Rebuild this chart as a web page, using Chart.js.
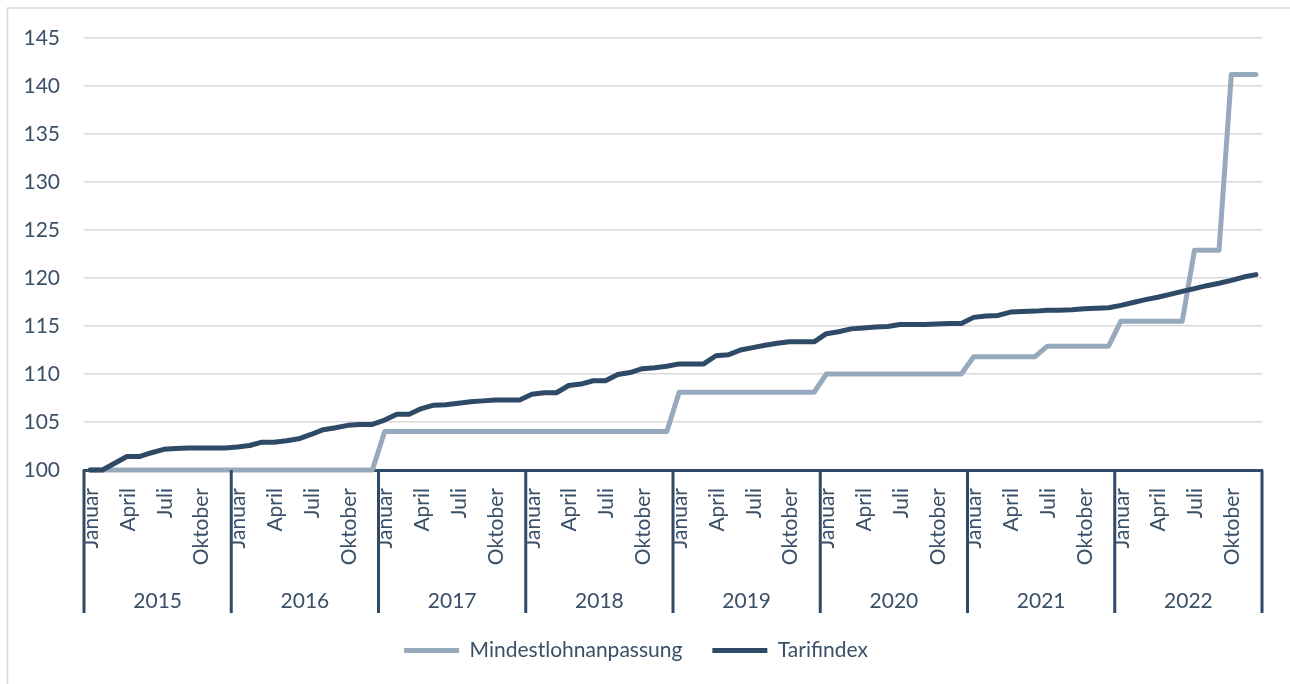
<!DOCTYPE html>
<html>
<head>
<meta charset="utf-8">
<script src="https://cdn.jsdelivr.net/npm/chart.js@4.4.0/dist/chart.umd.min.js"></script>
<style>
  body { margin: 0; background: #fff; }
  #wrap { width: 1290px; height: 684px; }
</style>
</head>
<body>
<div id="wrap"><canvas id="chart" width="1290" height="684"></canvas></div>
<script>
const years = ['2015', '2016', '2017', '2018', '2019', '2020', '2021', '2022'];
const months = ['Januar', 'Februar', 'März', 'April', 'Mai', 'Juni', 'Juli', 'August', 'September', 'Oktober', 'November', 'Dezember'];
const shownMonths = ['Januar', 'April', 'Juli', 'Oktober'];
const yTicks = { min: 100, max: 145, step: 5 };

// Mindestlohnanpassung, index Jan 2015 = 100
const mindestlohn2015 = [100, 100, 100, 100, 100, 100, 100, 100, 100, 100, 100, 100];
const mindestlohn2016 = [100, 100, 100, 100, 100, 100, 100, 100, 100, 100, 100, 100];
const mindestlohn2017 = [104, 104, 104, 104, 104, 104, 104, 104, 104, 104, 104, 104];
const mindestlohn2018 = [104, 104, 104, 104, 104, 104, 104, 104, 104, 104, 104, 104];
const mindestlohn2019 = [108.1, 108.1, 108.1, 108.1, 108.1, 108.1, 108.1, 108.1, 108.1, 108.1, 108.1, 108.1];
const mindestlohn2020 = [110, 110, 110, 110, 110, 110, 110, 110, 110, 110, 110, 110];
const mindestlohn2021 = [111.8, 111.8, 111.8, 111.8, 111.8, 111.8, 112.9, 112.9, 112.9, 112.9, 112.9, 112.9];
const mindestlohn2022 = [115.5, 115.5, 115.5, 115.5, 115.5, 115.5, 122.9, 122.9, 122.9, 141.2, 141.2, 141.2];

// Tarifindex
const tarif2015 = [100.0, 100.0, 100.7, 101.4, 101.4, 101.8, 102.15, 102.25, 102.3, 102.3, 102.3, 102.3];
const tarif2016 = [102.4, 102.55, 102.9, 102.9, 103.05, 103.25, 103.7, 104.2, 104.4, 104.65, 104.75, 104.75];
const tarif2017 = [105.2, 105.8, 105.8, 106.4, 106.75, 106.8, 106.95, 107.1, 107.2, 107.3, 107.3, 107.3];
const tarif2018 = [107.9, 108.05, 108.05, 108.8, 108.95, 109.3, 109.3, 109.95, 110.15, 110.55, 110.65, 110.8];
const tarif2019 = [111.05, 111.05, 111.05, 111.9, 112.0, 112.5, 112.75, 113.0, 113.2, 113.35, 113.35, 113.35];
const tarif2020 = [114.2, 114.4, 114.7, 114.8, 114.9, 114.95, 115.15, 115.15, 115.15, 115.2, 115.25, 115.25];
const tarif2021 = [115.9, 116.05, 116.1, 116.45, 116.5, 116.55, 116.65, 116.65, 116.7, 116.8, 116.85, 116.9];
const tarif2022 = [117.15, 117.45, 117.75, 118.0, 118.3, 118.6, 118.9, 119.2, 119.45, 119.75, 120.1, 120.35];

const mindestlohn = [].concat(mindestlohn2015, mindestlohn2016, mindestlohn2017, mindestlohn2018,
    mindestlohn2019, mindestlohn2020, mindestlohn2021, mindestlohn2022);
const tarifindex = [].concat(tarif2015, tarif2016, tarif2017, tarif2018,
    tarif2019, tarif2020, tarif2021, tarif2022);

const labels = [];
years.forEach(y => months.forEach(m => labels.push(m)));

const navy = '#2E4A66';
const light = '#97A9BC';
const textColor = '#3A4F68';
const font = { family: 'Lato', size: 21 };

// two-level category axis (rotated months + years with separators) and the outer frame
const yearAxis = {
    id: 'yearAxis',
    beforeDraw(chart) {
        const ctx = chart.ctx;
        ctx.save();
        ctx.strokeStyle = '#D9D9D9';
        ctx.lineWidth = 1.5;
        ctx.strokeRect(7.5, 8, 1400, 800);
        ctx.restore();
    },
    afterDraw(chart) {
        const ctx = chart.ctx;
        const x = chart.scales.x;
        const area = chart.chartArea;
        const bounds = [];
        for (let k = 0; k <= years.length; k++) {
            if (k === 0) bounds.push(area.left);
            else if (k === years.length) bounds.push(area.right);
            else bounds.push((x.getPixelForValue(12 * k - 1) + x.getPixelForValue(12 * k)) / 2);
        }
        ctx.save();
        ctx.strokeStyle = navy;
        ctx.lineWidth = 3;
        bounds.forEach(b => {
            ctx.beginPath();
            ctx.moveTo(b, area.bottom);
            ctx.lineTo(b, area.bottom + 143);
            ctx.stroke();
        });
        ctx.fillStyle = textColor;
        ctx.font = '21px Lato';
        ctx.textBaseline = 'middle';

        // month labels, rotated, reading upwards
        ctx.textAlign = 'right';
        labels.forEach((m, i) => {
            if (!shownMonths.includes(m)) return;
            ctx.save();
            ctx.translate(x.getPixelForValue(i) + 1, area.bottom + 18);
            ctx.rotate(-Math.PI / 2);
            ctx.fillText(m, 0, 0);
            ctx.restore();
        });

        ctx.textAlign = 'center';
        years.forEach((y, i) => {
            ctx.fillText(y, (bounds[i] + bounds[i + 1]) / 2, area.bottom + 131);
        });
        ctx.restore();
    }
};

new Chart(document.getElementById('chart'), {
    type: 'line',
    data: {
        labels: labels,
        datasets: [{
            label: 'Mindestlohnanpassung',
            data: mindestlohn,
            borderColor: light,
            backgroundColor: light,
            borderWidth: 5,
            borderCapStyle: 'round',
            borderJoinStyle: 'round',
            pointRadius: 0,
            tension: 0,
            clip: false,
            order: 1
        }, {
            label: 'Tarifindex',
            data: tarifindex,
            borderColor: navy,
            backgroundColor: navy,
            borderWidth: 5,
            borderCapStyle: 'round',
            borderJoinStyle: 'round',
            pointRadius: 0,
            tension: 0,
            clip: false,
            order: 0
        }]
    },
    options: {
        responsive: false,
        animation: false,
        layout: { padding: { top: 38, left: 10, right: 28, bottom: 13 } },
        plugins: {
            tooltip: { enabled: false },
            legend: {
                position: 'bottom',
                labels: {
                    usePointStyle: true,
                    pointStyle: 'line',
                    pointStyleWidth: 55,
                    padding: 30,
                    color: textColor,
                    font: font,
                    sort: (a, b) => a.datasetIndex - b.datasetIndex
                }
            }
        },
        scales: {
            x: {
                offset: true,
                grid: { display: false },
                border: { display: true, color: navy, width: 3 },
                ticks: { display: false },
                afterFit: s => { s.height = 140; }
            },
            y: {
                min: yTicks.min,
                max: yTicks.max,
                border: { display: false },
                grid: { color: '#D9D9D9', lineWidth: 1.5, drawTicks: false },
                ticks: {
                    stepSize: yTicks.step,
                    padding: 24,
                    color: textColor,
                    font: font
                },
                afterFit: s => { s.width = 74; }
            }
        }
    },
    plugins: [yearAxis]
});
</script>
</body>
</html>
